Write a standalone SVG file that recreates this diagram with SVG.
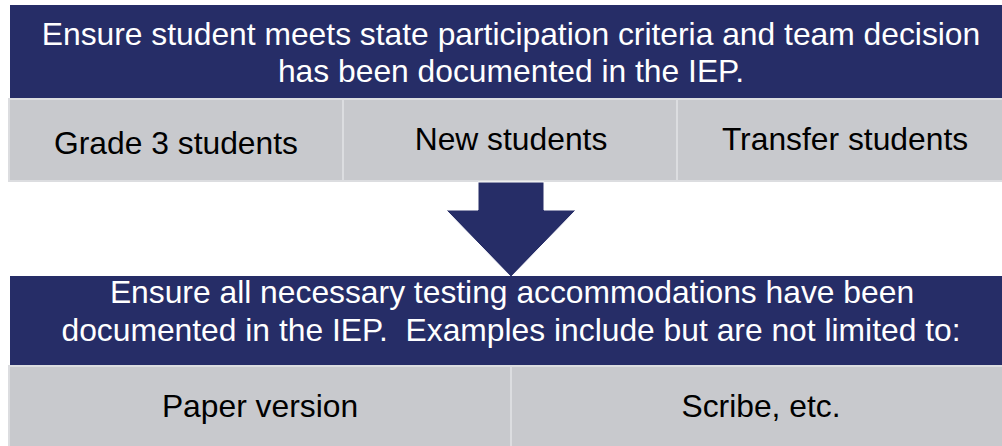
<svg xmlns="http://www.w3.org/2000/svg" width="1002" height="446" viewBox="0 0 1002 446">
<style>
.hdr{fill:#262d67}
.cell{fill:#c8c9cd;stroke:#dcdde0;stroke-width:2}
.wt{font-family:"Liberation Sans",Arial,sans-serif;font-size:31.8px;fill:#ffffff;text-anchor:middle;white-space:pre}
.bt{font-family:"Liberation Sans",Arial,sans-serif;font-size:31.8px;fill:#000000;text-anchor:middle}
.arrow{fill:#262d67;stroke:#ffffff;stroke-width:1}
</style>
<rect width="1002" height="446" fill="#ffffff"/>
<g id="top-header">
<rect class="hdr" x="10" y="5" width="1000" height="94"/>
<text class="wt" x="511" y="45">Ensure student meets state participation criteria and team decision</text>
<text class="wt" x="511" y="82">has been documented in the IEP.</text>
</g>
<g id="grade3">
<rect class="cell" x="9" y="99" width="334" height="82"/>
<text class="bt" x="176" y="154">Grade 3 students</text>
</g>
<g id="new-students">
<rect class="cell" x="343" y="99" width="334" height="82"/>
<text class="bt" x="511" y="150">New students</text>
</g>
<g id="transfer-students">
<rect class="cell" x="677" y="99" width="340" height="82"/>
<text class="bt" x="845" y="150">Transfer students</text>
</g>
<g id="connectors">
<polygon class="arrow" points="478,182 544,182 544,210 576,210 511,277 446,210 478,210"/>
</g>
<g id="bottom-header">
<rect class="hdr" x="10" y="276" width="1000" height="90"/>
<text class="wt" x="512" y="303">Ensure all necessary testing accommodations have been</text>
<text class="wt" x="511" y="341" xml:space="preserve">documented in the IEP.  Examples include but are not limited to:</text>
</g>
<g id="paper-version">
<rect class="cell" x="9" y="366" width="502" height="84"/>
<text class="bt" x="260" y="417">Paper version</text>
</g>
<g id="scribe">
<rect class="cell" x="511" y="366" width="505" height="84"/>
<text class="bt" x="761" y="417">Scribe, etc.</text>
</g>
</svg>
